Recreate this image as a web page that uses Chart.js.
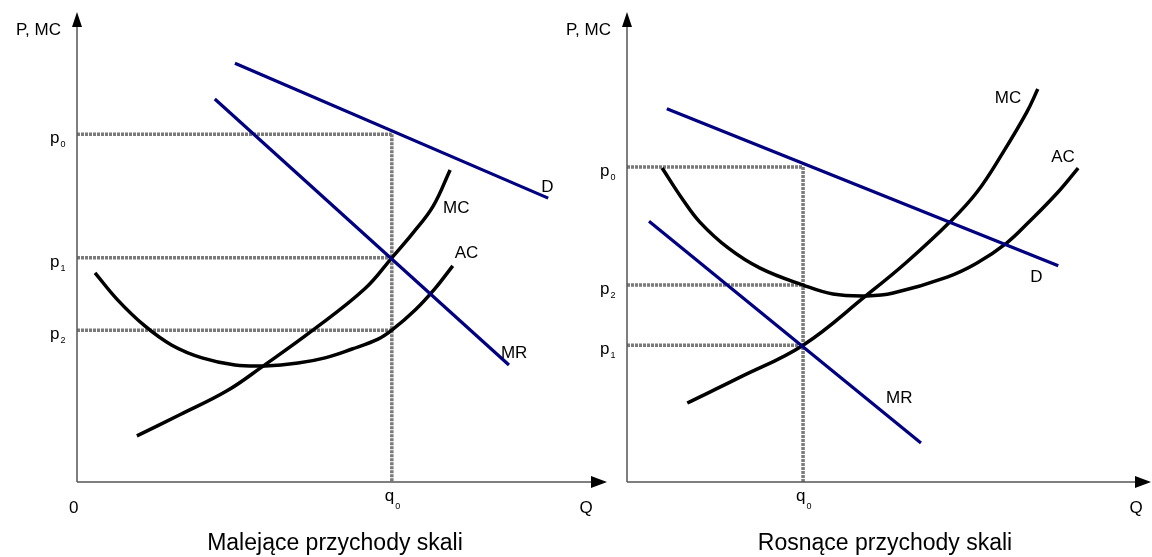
<!DOCTYPE html>
<html lang="pl">
<head>
<meta charset="UTF-8">
<title>Przychody skali</title>
<script src="https://cdn.jsdelivr.net/npm/chart.js"></script>
<style>
  html, body { margin: 0; padding: 0; background: #fff; }
  #wrap { position: relative; width: 1152px; height: 557px; }
  #wrap canvas { position: absolute; left: 0; top: 0; }
</style>
</head>
<body>
<div id="wrap">
  <canvas id="left" width="1152" height="557"></canvas>
  <canvas id="right" width="1152" height="557"></canvas>
</div>
<script>
// --- lewy wykres: malejące przychody skali ---
const leftTitle = 'Malejące przychody skali';
const leftQ0 = 59.4;
const leftPrices = [74.0, 47.7, 32.3];            // p0, p1, p2
const leftDQ = [29.8, 88.9];
const leftDP = [89.1, 60.4];
const leftMRQ = [26.0, 81.5];
const leftMRP = [81.5, 24.9];
const leftMCQ = [11.3, 19.4, 28.3, 34.9, 44.5, 54.3, 59.4, 63.4, 67.2, 70.4];
const leftMCP = [9.8, 14.3, 19.4, 24.5, 32.3, 41.1, 47.7, 53.0, 58.7, 66.4];
const leftACQ = [3.4, 7.7, 12.8, 17.9, 23.6, 29.8, 35.5, 41.7, 46.8, 51.9, 56.8, 59.4, 63.8, 67.5, 70.9];
const leftACP = [44.5, 38.7, 33.2, 29.1, 26.4, 24.9, 24.7, 25.3, 26.4, 28.3, 30.4, 32.3, 36.6, 41.1, 46.0];

// --- prawy wykres: rosnące przychody skali ---
const rightTitle = 'Rosnące przychody skali';
const rightQ0 = 33.6;
const rightPrices = [67.0, 29.1, 41.9];           // p0, p1, p2
const rightDQ = [7.6, 82.3];
const rightDP = [79.4, 46.0];
const rightMRQ = [4.2, 56.1];
const rightMRP = [55.5, 8.3];
const rightMCQ = [11.5, 21.6, 33.6, 45.8, 53.4, 61.6, 66.8, 71.8, 76.3, 78.4];
const rightMCP = [16.8, 22.3, 29.1, 39.8, 46.8, 55.3, 61.7, 70.2, 78.7, 83.6];
const rightACQ = [6.7, 10.7, 13.9, 19.3, 25.4, 33.6, 39.3, 45.8, 50.8, 61.1, 66.8, 72.5, 76.5, 82.1, 86.1];
const rightACP = [66.8, 60.0, 55.3, 49.8, 45.5, 41.9, 40.0, 39.6, 40.2, 43.6, 46.6, 50.9, 55.1, 61.5, 66.8];

const FONT = "'Liberation Sans', Arial, sans-serif";
const BLUE = '#000080';
const GUIDE = '#7a7a7a';

function series(qs, ps, color, smooth) {
    return {
        data: qs.map((q, i) => ({ x: q, y: ps[i] })),
        borderColor: color,
        borderWidth: smooth ? 3.5 : 3.2,
        pointRadius: 0,
        fill: false,
        tension: smooth ? 0.4 : 0
    };
}

function guides(q0, prices) {
    const out = prices.map(p => ({
        data: [{ x: 0, y: p }, { x: q0, y: p }],
        borderColor: GUIDE, borderWidth: 3.5, borderDash: [3, 1],
        pointRadius: 0, fill: false, tension: 0
    }));
    out.push({
        data: [{ x: q0, y: Math.max(...prices) }, { x: q0, y: 0 }],
        borderColor: GUIDE, borderWidth: 3.5, borderDash: [3, 1],
        pointRadius: 0, fill: false, tension: 0
    });
    return out;
}

function subText(ctx, x, y, main, sub, dy) {
    ctx.font = '17px ' + FONT;
    ctx.fillText(main, x, y);
    const w = ctx.measureText(main).width;
    ctx.font = '9px ' + FONT;
    ctx.fillText(sub, x + w + 1, y + dy);
}

const econPlugin = {
    id: 'econ',
    afterDraw(chart, args, o) {
        const ctx = chart.ctx;
        const xs = chart.scales.x, ys = chart.scales.y;
        const x0 = xs.getPixelForValue(0), y0 = ys.getPixelForValue(0);
        const top = chart.chartArea.top, right = chart.chartArea.right;
        ctx.save();

        // osie ze strzałkami
        ctx.strokeStyle = '#555';
        ctx.lineWidth = 1.5;
        ctx.beginPath();
        ctx.moveTo(x0, y0); ctx.lineTo(x0, top + 12);
        ctx.moveTo(x0, y0); ctx.lineTo(right - 14, y0);
        ctx.stroke();
        ctx.fillStyle = '#000';
        ctx.beginPath();
        ctx.moveTo(x0, top); ctx.lineTo(x0 - 5, top + 15); ctx.lineTo(x0 + 5, top + 15); ctx.closePath();
        ctx.moveTo(right, y0); ctx.lineTo(right - 16, y0 - 6); ctx.lineTo(right - 16, y0 + 6); ctx.closePath();
        ctx.fill();

        ctx.fillStyle = '#000';
        ctx.textBaseline = 'alphabetic';
        ctx.font = '17px ' + FONT;
        ctx.textAlign = 'right';
        ctx.fillText('P, MC', x0 - 16, top + 23);
        ctx.textAlign = 'left';
        if (o.showZero) ctx.fillText('0', x0 - 8, y0 + 31);
        ctx.textAlign = 'center';
        ctx.fillText('Q', right - o.qOffset, y0 + 31);

        ctx.textAlign = 'left';
        o.prices.forEach((p, i) => {
            subText(ctx, x0 - 27, ys.getPixelForValue(p) + 9, 'p', String(i), 4);
        });
        subText(ctx, xs.getPixelForValue(o.q0) - 7, y0 + 19, 'q', '0', 8);

        // etykiety krzywych przy ich końcach
        ctx.font = '17px ' + FONT;
        o.labels.forEach(l => {
            const pts = chart.data.datasets[l.ds].data;
            const end = pts[pts.length - 1];
            ctx.fillText(l.text, xs.getPixelForValue(end.x) + l.dx, ys.getPixelForValue(end.y) + l.dy);
        });

        ctx.font = '23px ' + FONT;
        ctx.textAlign = 'center';
        ctx.fillText(o.title, o.titleX, 550);
        ctx.restore();
    }
};

function makeChart(id, cfg) {
    new Chart(document.getElementById(id), {
        type: 'line',
        data: {
            datasets: [
                series(cfg.dQ, cfg.dP, BLUE, false),
                series(cfg.mrQ, cfg.mrP, BLUE, false),
                series(cfg.mcQ, cfg.mcP, '#000', true),
                series(cfg.acQ, cfg.acP, '#000', true),
                ...guides(cfg.q0, cfg.prices)
            ]
        },
        options: {
            responsive: false,
            animation: false,
            events: [],
            layout: { padding: cfg.padding },
            scales: {
                x: { type: 'linear', min: 0, max: 100, display: false },
                y: { type: 'linear', min: 0, max: 100, display: false }
            },
            plugins: {
                legend: { display: false },
                tooltip: { enabled: false },
                econ: {
                    prices: cfg.prices, q0: cfg.q0, title: cfg.title, titleX: cfg.titleX,
                    showZero: cfg.showZero, qOffset: cfg.qOffset, labels: cfg.labels
                }
            }
        },
        plugins: [econPlugin]
    });
}

makeChart('left', {
    dQ: leftDQ, dP: leftDP, mrQ: leftMRQ, mrP: leftMRP,
    mcQ: leftMCQ, mcP: leftMCP, acQ: leftACQ, acP: leftACP,
    q0: leftQ0, prices: leftPrices, title: leftTitle, titleX: 335,
    showZero: true, qOffset: 21,
    padding: { left: 77, right: 545, top: 12, bottom: 75 },
    labels: [
        { ds: 0, text: 'D', dx: -7, dy: -6 },
        { ds: 1, text: 'MR', dx: -8, dy: -7 },
        { ds: 2, text: 'MC', dx: -7, dy: 43 },
        { ds: 3, text: 'AC', dx: 2, dy: -8 }
    ]
});

makeChart('right', {
    dQ: rightDQ, dP: rightDP, mrQ: rightMRQ, mrP: rightMRP,
    mcQ: rightMCQ, mcP: rightMCP, acQ: rightACQ, acP: rightACP,
    q0: rightQ0, prices: rightPrices, title: rightTitle, titleX: 885,
    showZero: false, qOffset: 15,
    padding: { left: 627, right: 1, top: 12, bottom: 75 },
    labels: [
        { ds: 0, text: 'D', dx: -28, dy: 16 },
        { ds: 1, text: 'MR', dx: -35, dy: -40 },
        { ds: 2, text: 'MC', dx: -43, dy: 14 },
        { ds: 3, text: 'AC', dx: -27, dy: -6 }
    ]
});
</script>
</body>
</html>
